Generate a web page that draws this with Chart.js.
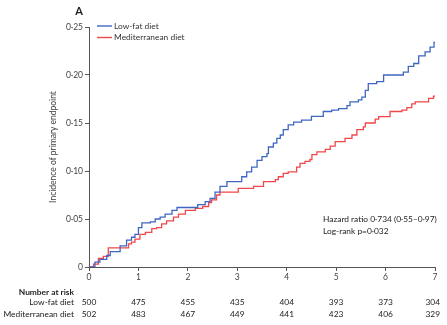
<!DOCTYPE html>
<html>
<head>
<meta charset="utf-8">
<script src="https://cdn.jsdelivr.net/npm/chart.js@4.4.1/dist/chart.umd.min.js"></script>
<style>
  html, body { margin: 0; padding: 0; background: #fff; }
  #km { display: block; }
</style>
</head>
<body>
<canvas id="km" width="447" height="325"></canvas>
<script>
// Kaplan-Meier style cumulative incidence
var lowFatTime = [0, 0.12, 0.22, 0.36, 0.43, 0.63, 0.76, 0.86, 0.93, 1.00, 1.07, 1.24, 1.34, 1.44, 1.54, 1.68, 1.78,
  2.20, 2.35, 2.45, 2.55, 2.65, 2.79, 3.09, 3.19, 3.29, 3.40, 3.50, 3.60, 3.63, 3.73, 3.80, 3.87, 3.93, 4.03, 4.14,
  4.30, 4.50, 4.74, 4.91, 5.05, 5.22, 5.28, 5.45, 5.52, 5.59, 5.65, 5.82, 5.96, 6.36, 6.46, 6.57, 6.67, 6.80, 6.90, 6.98, 7.00];
var lowFatIncidence = [0, 0.005, 0.008, 0.012, 0.016, 0.022, 0.028, 0.031, 0.034, 0.041, 0.046, 0.047, 0.050, 0.052, 0.055, 0.059, 0.062,
  0.065, 0.068, 0.0715, 0.078, 0.084, 0.089, 0.094, 0.099, 0.104, 0.111, 0.115, 0.118, 0.125, 0.129, 0.134, 0.1375, 0.143, 0.148, 0.151,
  0.153, 0.157, 0.162, 0.1635, 0.165, 0.168, 0.172, 0.174, 0.177, 0.184, 0.191, 0.193, 0.200, 0.203, 0.209, 0.212, 0.220, 0.224, 0.229, 0.234, 0.234];

var medTime = [0, 0.09, 0.19, 0.29, 0.39, 0.80, 0.86, 0.93, 1.03, 1.14, 1.27, 1.37, 1.47, 1.57, 1.71, 1.81, 1.95, 2.15, 2.30,
  2.42, 2.48, 2.58, 2.65, 3.02, 3.33, 3.53, 3.77, 3.83, 3.93, 4.03, 4.20, 4.27, 4.37, 4.47, 4.51, 4.61, 4.78, 4.88, 4.98,
  5.18, 5.32, 5.42, 5.55, 5.59, 5.79, 5.86, 6.09, 6.33, 6.43, 6.53, 6.60, 6.87, 6.97, 7.00];
var medIncidence = [0, 0.003, 0.009, 0.011, 0.020, 0.024, 0.026, 0.029, 0.034, 0.036, 0.040, 0.041, 0.045, 0.048, 0.052, 0.055, 0.059, 0.061, 0.063,
  0.067, 0.070, 0.075, 0.078, 0.082, 0.084, 0.089, 0.091, 0.094, 0.0975, 0.099, 0.104, 0.108, 0.110, 0.112, 0.117, 0.120, 0.1226, 0.126, 0.1305,
  0.134, 0.1375, 0.143, 0.146, 0.150, 0.154, 0.1566, 0.162, 0.1635, 0.166, 0.170, 0.172, 0.1757, 0.178, 0.178];

// number at risk table
var riskYears = [0, 1, 2, 3, 4, 5, 6, 7];
var lowFatAtRisk = [500, 475, 455, 435, 404, 393, 373, 304];
var medAtRisk = [502, 483, 467, 449, 441, 423, 406, 329];

var BLUE = '#3f67c2';
var RED = '#f0474a';
var AXIS = '#555';
var FONT = 'Lato, "Open Sans", sans-serif';
var TXT = '8.4px ' + FONT;

function toPoints(xs, ys) {
  var out = [];
  for (var i = 0; i < xs.length; i++) out.push({x: xs[i], y: ys[i]});
  return out;
}

// legend, panel letter, annotation and at-risk table
var extras = {
  id: 'extras',
  afterDraw: function (chart) {
    var ctx = chart.ctx;
    var xs = chart.scales.x;
    ctx.save();
    ctx.fillStyle = '#222';
    ctx.font = 'bold 11px ' + FONT;
    ctx.textAlign = 'center';
    ctx.textBaseline = 'middle';
    ctx.fillText('A', 79, 11);

    // legend
    ctx.font = TXT;
    ctx.textAlign = 'left';
    ctx.lineWidth = 1.4;
    [['Low-fat diet', BLUE, 26], ['Mediterranean diet', RED, 37.5]].forEach(function (it) {
      ctx.strokeStyle = it[1];
      ctx.beginPath();
      ctx.moveTo(97, it[2]);
      ctx.lineTo(112, it[2]);
      ctx.stroke();
      ctx.fillStyle = '#333';
      ctx.fillText(it[0], 114, it[2]);
    });

    // stats
    ctx.fillStyle = '#222';
    ctx.fillText('Hazard ratio 0·734 (0·55–0·97)', 323, 219);
    ctx.fillText('Log-rank p=0·032', 323, 231);

    // number at risk
    ctx.textAlign = 'right';
    ctx.font = 'bold ' + TXT;
    ctx.fillText('Number at risk', 74, 292);
    ctx.font = TXT;
    ctx.fillText('Low-fat diet', 74, 302.5);
    ctx.fillText('Mediterranean diet', 74, 314);
    ctx.textAlign = 'center';
    [[lowFatAtRisk, 302.5], [medAtRisk, 314]].forEach(function (row) {
      riskYears.forEach(function (yr, i) {
        var s = String(row[0][i]);
        var w = ctx.measureText(s).width;
        var px = Math.min(xs.getPixelForValue(yr), 440 - w / 2);
        ctx.fillText(s, px, row[1]);
      });
    });
    ctx.restore();
  }
};

var tickFont = {family: FONT, size: 8.5};

new Chart(document.getElementById('km'), {
  type: 'line',
  data: {
    datasets: [
      {label: 'Low-fat diet', data: toPoints(lowFatTime, lowFatIncidence), borderColor: BLUE, borderWidth: 1.3, stepped: true, pointRadius: 0, fill: false},
      {label: 'Mediterranean diet', data: toPoints(medTime, medIncidence), borderColor: RED, borderWidth: 1.3, stepped: true, pointRadius: 0, fill: false}
    ]
  },
  options: {
    responsive: false,
    animation: false,
    layout: {padding: {left: 0, right: 12, top: 27, bottom: 0}},
    plugins: {legend: {display: false}, tooltip: {enabled: false}},
    scales: {
      x: {
        type: 'linear', min: 0, max: 7,
        afterFit: function (s) { s.height = 58; },
        ticks: {stepSize: 1, padding: 1, color: '#444', font: tickFont, maxRotation: 0},
        grid: {drawOnChartArea: false, tickLength: 4, color: AXIS, tickWidth: 1},
        border: {color: AXIS, width: 1}
      },
      y: {
        min: 0, max: 0.25,
        afterFit: function (s) { s.width = 89; },
        ticks: {
          stepSize: 0.05, padding: 2, color: '#444', font: tickFont,
          callback: function (v) { return v === 0 ? '0' : v.toFixed(2).replace('.', '·'); }
        },
        grid: {drawOnChartArea: false, tickLength: 4, color: AXIS, tickWidth: 1},
        border: {color: AXIS, width: 1},
        title: {display: true, text: 'Incidence of primary endpoint', color: '#444', font: tickFont, padding: {top: 48, bottom: 0}}
      }
    }
  },
  plugins: [extras]
});
</script>
</body>
</html>
